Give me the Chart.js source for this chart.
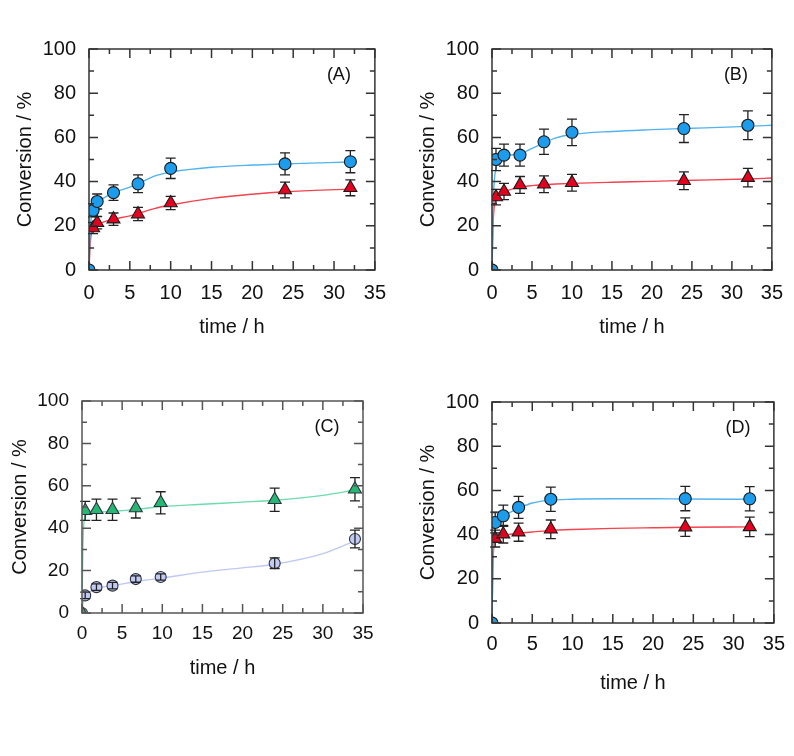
<!DOCTYPE html>
<html>
<head>
<meta charset="utf-8">
<script src="https://cdn.jsdelivr.net/npm/chart.js@4.4.0/dist/chart.umd.min.js"></script>
<style>
  html, body { margin: 0; padding: 0; background: #fff; }
  #page { position: relative; width: 794px; height: 756px; overflow: hidden; }
  canvas { position: absolute; }
</style>
</head>
<body>
<div id="page">
  <canvas id="chartA" style="left:0px;top:0px;" width="397" height="339"></canvas>
  <canvas id="chartB" style="left:400px;top:0px;" width="394" height="339"></canvas>
  <canvas id="chartC" style="left:0px;top:360px;" width="397" height="320"></canvas>
  <canvas id="chartD" style="left:400px;top:360px;" width="394" height="335"></canvas>
</div>
<script>
// ---- Panel (A) ----
const timesA = [0, 0.5, 1, 3, 6, 10, 24, 32];
const circA = [0, 27, 31, 35, 39, 46, 48, 49];
const circErrA = [0, 3, 3.4, 3.5, 4, 4.6, 5, 5];
const triA = [0, 19, 21.4, 23, 25.3, 30.3, 36.2, 37.2];
const triErrA = [0, 2.5, 2.8, 2.8, 3, 3, 3.6, 3.6];
const fitTimesA = [0, 0.15, 0.5, 1, 2, 3, 5, 6, 8, 10, 15, 20, 24, 32];
const fitCircA = [0, 18, 27, 30.5, 33, 35, 37.5, 39, 42.5, 44.3, 46.5, 47.5, 48, 48.9];
const fitTriA = [0, 12, 19, 20.5, 22, 23, 24.5, 25.5, 27.8, 29.4, 32.4, 34.3, 35.4, 36.6];

// ---- Panel (B) ----
const timesB = [0, 0.5, 1.5, 3.5, 6.5, 10, 24, 32];
const circB = [0, 50, 52, 52, 58, 62.3, 64, 65.5];
const circErrB = [0, 5, 5, 5, 5.7, 6, 6.3, 6.5];
const triB = [0, 33, 35.5, 38.5, 38.8, 39.5, 40.4, 41.8];
const triErrB = [0, 3.5, 3.7, 3.8, 3.8, 3.8, 4, 4.2];
const fitTimesB = [0, 0.15, 0.5, 1, 2, 3.5, 5, 6.5, 8, 10, 15, 20, 24, 32, 35];
const fitCircB = [0, 30, 46, 50, 51.8, 52.5, 55, 57.5, 59.8, 61.3, 62.7, 63.5, 64, 65, 65.5];
const fitTriB = [0, 22, 32, 34, 36, 37.5, 38.2, 38.6, 38.9, 39.2, 39.7, 40.1, 40.5, 41.2, 41.6];

// ---- Panel (C) ----
const timesC = [0, 0.4, 1.8, 3.8, 6.7, 9.8, 24, 34];
const triC = [0, 48.2, 48.7, 48.7, 49.5, 52, 53.4, 58.4];
const triErrC = [0, 4.5, 5, 5, 4.7, 5.2, 5.5, 5.5];
const circC = [0, 8.3, 12.2, 12.9, 16, 17, 23.5, 34.9];
const circErrC = [0, 1.5, 1.5, 1.5, 1.5, 1.5, 2.5, 4.2];
const fitTimesC = [0, 0.1, 0.4, 1, 2, 4, 7, 10, 15, 20, 24, 30, 34];
const fitTriC = [0, 30, 46, 47, 47.5, 48, 49, 50.2, 51.3, 52.3, 53.2, 55.5, 58];
const fitCircC = [0, 4, 8, 10, 11.8, 13, 15, 16.5, 19.3, 21.3, 23, 28, 34];

// ---- Panel (D) ----
const timesD = [0, 0.4, 1.4, 3.3, 7.3, 24, 32];
const circD = [0, 45.5, 48.5, 52.3, 56, 56.3, 56.2];
const circErrD = [0, 4.7, 4.8, 5, 5.5, 5.5, 5.5];
const triD = [0, 38.2, 40.2, 41.1, 42.4, 43.4, 43.5];
const triErrD = [0, 3.8, 4, 4.1, 4.2, 4.2, 4.4];
const fitTimesD = [0, 0.1, 0.4, 1, 1.5, 2.5, 3.5, 5, 7, 10, 15, 20, 24, 32];
const fitCircD = [0, 25, 44, 47, 48.5, 50.5, 52.2, 54.3, 55.5, 56, 56.2, 56.2, 56.1, 56];
const fitTriD = [0, 25, 38, 39.2, 39.7, 40.3, 40.7, 41.2, 41.8, 42.3, 42.8, 43.1, 43.3, 43.5];

// axis ticks
const xTickStep = 5, xMinorStep = 2.5, xMax = 35;
const yTickStep = 20, yMinorStep = 10, yMax = 100;

const FONT = "Arial, 'Liberation Sans', sans-serif";

function zip(xs, ys) {
    return xs.map((x, i) => ({ x: x, y: ys[i] }));
}

// error bars drawn from the dataset's own "errors" array
function drawErrors(chart, meta, ds) {
    if (!ds.errors) return;
    const ctx = chart.ctx;
    const yScale = chart.scales.y;
    const cap = ds.capWidth || 5;
    ctx.save();
    ctx.strokeStyle = '#222';
    ctx.lineWidth = 1.3;
    meta.data.forEach((pt, i) => {
        const err = ds.errors[i];
        if (!err) return;
        const v = ds.data[i].y;
        const yTop = yScale.getPixelForValue(v + err);
        const yBot = yScale.getPixelForValue(v - err);
        ctx.beginPath();
        ctx.moveTo(pt.x, yTop); ctx.lineTo(pt.x, yBot);
        ctx.moveTo(pt.x - cap, yTop); ctx.lineTo(pt.x + cap, yTop);
        ctx.moveTo(pt.x - cap, yBot); ctx.lineTo(pt.x + cap, yBot);
        ctx.stroke();
    });
    ctx.restore();
}

// bars go behind the markers unless the dataset asks for them on top
const errorBarPlugin = {
    id: 'errorBars',
    beforeDatasetDraw(chart, args) {
        const ds = chart.data.datasets[args.index];
        if (!ds.errorsOnTop) drawErrors(chart, args.meta, ds);
    },
    afterDatasetDraw(chart, args) {
        const ds = chart.data.datasets[args.index];
        if (ds.errorsOnTop) drawErrors(chart, args.meta, ds);
    }
};

// box frame with inward ticks on all four sides, plus the panel letter
const framePlugin = {
    id: 'frame',
    afterDraw(chart, args, opts) {
        const ctx = chart.ctx;
        const a = chart.chartArea;
        const xs = chart.scales.x, ys = chart.scales.y;
        ctx.save();
        ctx.strokeStyle = opts.color || '#333';
        ctx.lineWidth = 1.5;
        ctx.strokeRect(a.left, a.top, a.right - a.left, a.bottom - a.top);
        ctx.beginPath();
        for (let v = 0; v <= xMax + 1e-9; v += xMinorStep) {
            const px = xs.getPixelForValue(v);
            const len = (v % xTickStep === 0) ? 9 : 5;
            ctx.moveTo(px, a.bottom); ctx.lineTo(px, a.bottom - len);
            ctx.moveTo(px, a.top); ctx.lineTo(px, a.top + len);
        }
        for (let v = 0; v <= yMax + 1e-9; v += yMinorStep) {
            const py = ys.getPixelForValue(v);
            const len = (v % yTickStep === 0) ? 9 : 5;
            ctx.moveTo(a.left, py); ctx.lineTo(a.left + len, py);
            ctx.moveTo(a.right, py); ctx.lineTo(a.right - len, py);
        }
        ctx.stroke();
        // panel label
        ctx.fillStyle = '#111';
        ctx.font = '18px ' + FONT;
        ctx.textAlign = 'center';
        ctx.textBaseline = 'middle';
        ctx.fillText(opts.label, a.right - 36, a.top + 26);
        ctx.restore();
    }
};

function makePanel(id, p) {
    const ctx = document.getElementById(id).getContext('2d');
    const mark = (times, vals, errs, style, fill, r, onTop) => ({
        data: zip(times, vals),
        errors: errs,
        errorsOnTop: !!onTop,
        capWidth: p.cap,
        showLine: false,
        pointStyle: style,
        pointRadius: r,
        pointBackgroundColor: fill,
        pointBorderColor: p.markBorder,
        pointBorderWidth: 1.1,
        order: 1
    });
    const fit = (times, vals, color) => ({
        data: zip(times, vals),
        showLine: true,
        borderColor: color,
        borderWidth: 1.4,
        pointRadius: 0,
        cubicInterpolationMode: 'monotone',
        order: 3
    });

    return new Chart(ctx, {
        type: 'scatter',
        data: { datasets: p.datasets(mark, fit) },
        options: {
            responsive: false,
            animation: false,
            events: [],
            layout: { padding: p.padding },
            scales: {
                x: {
                    type: 'linear', min: 0, max: xMax,
                    grid: { display: false, drawTicks: false },
                    border: { display: false },
                    ticks: { stepSize: xTickStep, padding: p.xPad, color: '#111', font: { family: FONT, size: p.tickSize } },
                    title: { display: true, text: 'time / h', color: '#111', padding: 0, font: { family: FONT, size: 20 } },
                    afterFit(scale) { scale.height = p.xHeight; }
                },
                y: {
                    type: 'linear', min: 0, max: yMax,
                    grid: { display: false, drawTicks: false },
                    border: { display: false },
                    ticks: { stepSize: yTickStep, padding: 13, color: '#111', font: { family: FONT, size: p.tickSize } },
                    title: { display: true, text: 'Conversion / %', color: '#111', padding: 0, font: { family: FONT, size: 20 } },
                    afterFit(scale) { scale.width = p.yWidth; }
                }
            },
            plugins: {
                legend: { display: false },
                tooltip: { enabled: false },
                frame: { label: p.label, color: p.frameColor }
            }
        },
        plugins: [errorBarPlugin, framePlugin]
    });
}

const BLUE = '#1c9cec', BLUE_LINE = '#52b3ee';
const RED = '#e6001f', RED_LINE = '#f2434e';
const GREEN = '#26b873', GREEN_LINE = '#6cdcae';
const LAVENDER = '#c3cbf4', LAVENDER_LINE = '#c0c7f5';

makePanel('chartA', {
    label: '(A)', padding: { left: 13, top: 49, right: 18, bottom: 0 },
    yWidth: 76, xHeight: 69, xPad: 11, tickSize: 20, cap: 5, markBorder: '#1a1a1a',
    datasets: (mark, fit) => [
        mark(timesA, circA, circErrA, 'circle', BLUE, 6),
        mark(timesA, triA, triErrA, 'triangle', RED, 7.5),
        fit(fitTimesA, fitCircA, BLUE_LINE),
        fit(fitTimesA, fitTriA, RED_LINE)
    ]
});

makePanel('chartB', {
    label: '(B)', padding: { left: 16, top: 49, right: 12, bottom: 0 },
    yWidth: 76, xHeight: 69, xPad: 11, tickSize: 20, cap: 5, markBorder: '#1a1a1a',
    datasets: (mark, fit) => [
        mark(timesB, circB, circErrB, 'circle', BLUE, 6),
        mark(timesB, triB, triErrB, 'triangle', RED, 7.5),
        fit(fitTimesB, fitCircB, BLUE_LINE),
        fit(fitTimesB, fitTriB, RED_LINE)
    ]
});

makePanel('chartC', {
    label: '(C)', padding: { left: 8, top: 41, right: 34, bottom: 0 },
    yWidth: 74, xHeight: 67, xPad: 9, tickSize: 19, cap: 5, markBorder: '#2e3340',
    frameColor: '#555',
    datasets: (mark, fit) => [
        mark(timesC, triC, triErrC, 'triangle', GREEN, 7.5),
        mark(timesC, circC, circErrC, 'circle', LAVENDER, 5.5, true),
        fit(fitTimesC, fitTriC, GREEN_LINE),
        fit(fitTimesC, fitCircC, LAVENDER_LINE)
    ]
});

makePanel('chartD', {
    label: '(D)', padding: { left: 16, top: 42, right: 12, bottom: 0 },
    yWidth: 76, xHeight: 72, xPad: 9, tickSize: 20, cap: 5, markBorder: '#1a1a1a',
    datasets: (mark, fit) => [
        mark(timesD, circD, circErrD, 'circle', BLUE, 6),
        mark(timesD, triD, triErrD, 'triangle', RED, 7.5),
        fit(fitTimesD, fitCircD, BLUE_LINE),
        fit(fitTimesD, fitTriD, RED_LINE)
    ]
});
</script>
</body>
</html>
